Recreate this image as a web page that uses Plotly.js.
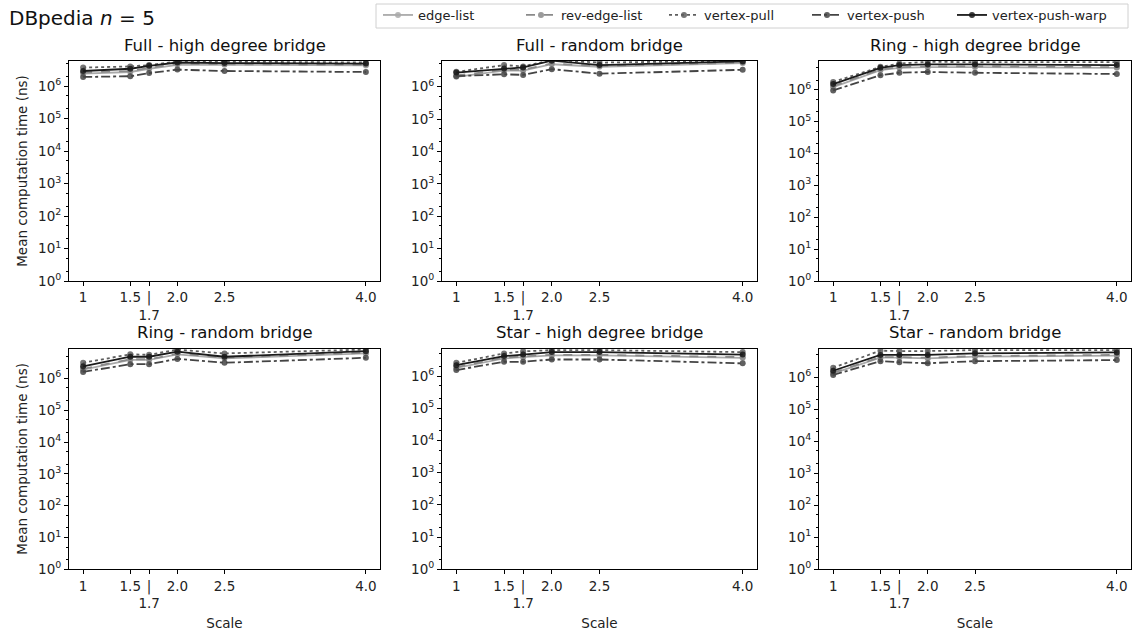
<!DOCTYPE html>
<html>
<head>
<meta charset="utf-8">
<script src="https://cdn.plot.ly/plotly-3.0.1.min.js"></script>
<style>html,body{margin:0;padding:0;background:#fff;}#chart{width:1133px;height:634px;}</style>
</head>
<body>
<div id="chart"></div>
<script>
// ---- data ----
const scales = [1, 1.5, 1.7, 2.0, 2.5, 4.0];
const xTickVals = [1, 1.5, 1.7, 2.0, 2.5, 4.0];
const xTickText = ["1", "1.5", "|<br>1.7", "2.0", "2.5", "4.0"];
const yTickVals = [1, 10, 100, 1000, 10000, 100000, 1000000];
const yTickText = ["10<sup>0</sup>", "10<sup>1</sup>", "10<sup>2</sup>", "10<sup>3</sup>", "10<sup>4</sup>", "10<sup>5</sup>", "10<sup>6</sup>"];
const seriesNames = ["edge-list", "rev-edge-list", "vertex-pull", "vertex-push", "vertex-push-warp"];
const panelTitles = ["Full - high degree bridge", "Full - random bridge", "Ring - high degree bridge",
                     "Ring - random bridge", "Star - high degree bridge", "Star - random bridge"];

// values per panel (ns)
const fullHigh_edgeList   = [2.4e6, 2.7e6, 3.4e6, 4.5e6, 4.5e6, 4.3e6];
const fullHigh_revEdge    = [2.6e6, 2.9e6, 3.6e6, 4.8e6, 4.7e6, 4.5e6];
const fullHigh_vertexPull = [3.7e6, 4.0e6, 4.4e6, 5.7e6, 5.6e6, 5.3e6];
const fullHigh_vertexPush = [1.9e6, 2.0e6, 2.5e6, 3.2e6, 2.9e6, 2.7e6];
const fullHigh_pushWarp   = [2.9e6, 3.4e6, 4.2e6, 5.3e6, 5.1e6, 4.9e6];

const fullRand_edgeList   = [2.0e6, 3.1e6, 3.1e6, 4.9e6, 4.1e6, 5.3e6];
const fullRand_revEdge    = [2.2e6, 3.3e6, 3.3e6, 5.2e6, 4.3e6, 5.5e6];
const fullRand_vertexPull = [2.85e6, 4.6e6, 4.2e6, 6.6e6, 5.5e6, 6.3e6];
const fullRand_vertexPush = [2.1e6, 2.4e6, 2.3e6, 3.45e6, 2.5e6, 3.3e6];
const fullRand_pushWarp   = [2.7e6, 3.6e6, 3.9e6, 6.3e6, 4.6e6, 6.0e6];

const ringHigh_edgeList   = [1.2e6, 4.1e6, 4.85e6, 5.1e6, 5.1e6, 4.85e6];
const ringHigh_revEdge    = [1.3e6, 4.3e6, 5.1e6, 5.4e6, 5.4e6, 5.1e6];
const ringHigh_vertexPull = [1.75e6, 5.2e6, 6.6e6, 7.5e6, 7.3e6, 7.3e6];
const ringHigh_vertexPush = [0.95e6, 2.85e6, 3.4e6, 3.6e6, 3.4e6, 3.1e6];
const ringHigh_pushWarp   = [1.5e6, 4.85e6, 5.9e6, 6.2e6, 6.2e6, 5.9e6];

const ringRand_edgeList   = [1.9e6, 3.8e6, 3.8e6, 5.7e6, 4.25e6, 6.1e6];
const ringRand_revEdge    = [2.0e6, 4.0e6, 4.0e6, 6.0e6, 4.5e6, 6.4e6];
const ringRand_vertexPull = [3.1e6, 5.7e6, 5.5e6, 8.1e6, 6.1e6, 8.1e6];
const ringRand_vertexPush = [1.6e6, 2.8e6, 2.8e6, 4.1e6, 3.1e6, 4.45e6];
const ringRand_pushWarp   = [2.4e6, 4.8e6, 4.8e6, 6.9e6, 4.8e6, 7.2e6];

const starHigh_edgeList   = [1.8e6, 3.55e6, 3.9e6, 4.4e6, 4.4e6, 3.7e6];
const starHigh_revEdge    = [1.9e6, 3.75e6, 4.1e6, 4.6e6, 4.6e6, 3.9e6];
const starHigh_vertexPull = [2.6e6, 5.1e6, 5.9e6, 6.45e6, 6.45e6, 5.6e6];
const starHigh_vertexPush = [1.55e6, 2.8e6, 2.8e6, 3.3e6, 3.3e6, 2.5e6];
const starHigh_pushWarp   = [2.2e6, 4.2e6, 4.7e6, 5.6e6, 5.6e6, 4.7e6];

const starRand_edgeList   = [1.33e6, 4.1e6, 4.1e6, 3.9e6, 4.4e6, 4.75e6];
const starRand_revEdge    = [1.4e6, 4.3e6, 4.3e6, 4.1e6, 4.6e6, 5.0e6];
const starRand_vertexPull = [2.0e6, 6.8e6, 6.6e6, 6.6e6, 7.1e6, 7.1e6];
const starRand_vertexPush = [1.18e6, 3.2e6, 2.95e6, 2.75e6, 3.2e6, 3.45e6];
const starRand_pushWarp   = [1.6e6, 5.0e6, 5.0e6, 5.0e6, 5.6e6, 6.0e6];

const panels = [
  [fullHigh_edgeList, fullHigh_revEdge, fullHigh_vertexPull, fullHigh_vertexPush, fullHigh_pushWarp],
  [fullRand_edgeList, fullRand_revEdge, fullRand_vertexPull, fullRand_vertexPush, fullRand_pushWarp],
  [ringHigh_edgeList, ringHigh_revEdge, ringHigh_vertexPull, ringHigh_vertexPush, ringHigh_pushWarp],
  [ringRand_edgeList, ringRand_revEdge, ringRand_vertexPull, ringRand_vertexPush, ringRand_pushWarp],
  [starHigh_edgeList, starHigh_revEdge, starHigh_vertexPull, starHigh_vertexPush, starHigh_pushWarp],
  [starRand_edgeList, starRand_revEdge, starRand_vertexPull, starRand_vertexPush, starRand_pushWarp]
];
const yTops = [6.77, 6.79, 6.9, 6.94, 6.86, 6.9];

// ---- styles ----
const colors = ["#aaaaaa", "#8a8a8a", "#5e5e5e", "#444444", "#1a1a1a"];
const dashes = ["solid", "dash", "dot", "dashdot", "solid"];
const W = 1133, H = 634;
const colPx = [[69, 380], [442, 757], [819, 1131]];
const rowPx = [[61, 281], [348.5, 569.3]];
const FONT = "DejaVu Sans, sans-serif";
const FS = 13.5;

const traces = [];
const legendCommon = {
  orientation: "h", xanchor: "left", yanchor: "top", y: 1 - 0 / H,
  bgcolor: "rgba(0,0,0,0)", borderwidth: 0,
  font: {family: FONT, size: 13, color: "#222"},
  itemwidth: 30, tracegroupgap: 0
};
const layout = {
  width: W, height: H,
  margin: {l: 0, r: 0, t: 0, b: 0},
  paper_bgcolor: "#fff", plot_bgcolor: "#fff",
  font: {family: FONT, size: FS, color: "#222"},
  showlegend: true,
  legend: Object.assign({}, legendCommon, {x: 378 / W, entrywidth: 98, entrywidthmode: "pixels"}),
  legend2: Object.assign({}, legendCommon, {x: 952 / W}),
  shapes: [
    {type: "rect", xref: "paper", yref: "paper", x0: 376 / W, x1: 1128 / W, y0: 1 - 28 / H, y1: 1 - 4 / H,
     line: {color: "#d0d0d0", width: 1}, fillcolor: "rgba(0,0,0,0)", layer: "below"}
  ],
  annotations: [
    {text: "DBpedia <i>n</i> = 5", x: 7 / W, y: 1 - 18 / H, xref: "paper", yref: "paper",
     xanchor: "left", yanchor: "middle", showarrow: false, font: {family: FONT, size: 20, color: "#111"}}
  ]
};

panels.forEach((panel, p) => {
  const r = Math.floor(p / 3), c = p % 3;
  const ax = p === 0 ? "" : String(p + 1);
  const xa = "xaxis" + ax, ya = "yaxis" + ax;
  layout[xa] = {
    domain: [colPx[c][0] / W, colPx[c][1] / W],
    anchor: "y" + ax,
    range: [0.85, 4.15],
    tickmode: "array", tickvals: xTickVals, ticktext: xTickText,
    tickangle: 0,
    ticks: "outside", ticklen: 4, tickcolor: "#000", tickwidth: 1,
    showline: true, linecolor: "#000", linewidth: 1, mirror: true,
    showgrid: false, zeroline: false,
    tickfont: {family: FONT, size: FS, color: "#222"},
    title: r === 1 ? {text: "Scale", font: {family: FONT, size: FS, color: "#222"}, standoff: 8} : {text: ""}
  };
  layout[ya] = {
    domain: [1 - rowPx[r][1] / H, 1 - rowPx[r][0] / H],
    anchor: "x" + ax,
    type: "log",
    range: [0, yTops[p]],
    tickmode: "array", tickvals: yTickVals, ticktext: yTickText,
    ticks: "outside", ticklen: 4, tickcolor: "#000", tickwidth: 1,
    minor: {ticks: "outside", ticklen: 2, tickcolor: "#000", showgrid: false},
    showline: true, linecolor: "#000", linewidth: 1, mirror: true,
    showgrid: false, zeroline: false,
    tickfont: {family: FONT, size: FS, color: "#222"},
    title: c === 0 ? {text: "Mean computation time (ns)", font: {family: FONT, size: FS, color: "#222"}, standoff: 7} : {text: ""}
  };
  layout.annotations.push({
    text: panelTitles[p], xref: "paper", yref: "paper",
    x: (colPx[c][0] + colPx[c][1]) / 2 / W, y: 1 - (rowPx[r][0] - 4) / H,
    xanchor: "center", yanchor: "bottom", showarrow: false,
    font: {family: FONT, size: 16.5, color: "#111"}
  });
  panel.forEach((vals, s) => {
    traces.push({
      type: "scatter", mode: "lines+markers",
      x: scales, y: vals,
      name: seriesNames[s], legendgroup: seriesNames[s], showlegend: p === 0,
      legend: s === 4 ? "legend2" : "legend",
      xaxis: "x" + ax, yaxis: "y" + ax,
      line: {color: colors[s], dash: dashes[s], width: 1.8},
      marker: {color: colors[s], size: 6, opacity: 0.85},
      cliponaxis: true
    });
  });
});

Plotly.newPlot("chart", traces, layout, {displayModeBar: false, staticPlot: true});
</script>
</body>
</html>
